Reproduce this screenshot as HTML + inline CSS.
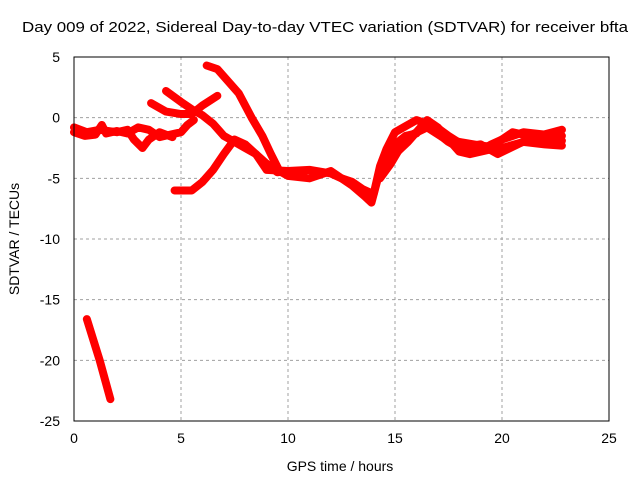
<!DOCTYPE html>
<html><head><meta charset="utf-8"><style>
body{margin:0;background:#fff}
svg{display:block;font-family:"Liberation Sans",sans-serif}
</style></head><body>
<svg id="c" width="640" height="480">
<text x="22" y="32" font-size="15" textLength="606" lengthAdjust="spacingAndGlyphs">Day 009 of 2022, Sidereal Day-to-day VTEC variation (SDTVAR) for receiver bfta</text>
<text x="340" y="471" font-size="14" text-anchor="middle">GPS time / hours</text>
<text transform="translate(19,239) rotate(-90)" font-size="14" text-anchor="middle">SDTVAR / TECUs</text>
<g id="grid"></g><g id="ticks"></g><g id="series"></g>
<rect x="74" y="57" width="535" height="364" fill="none" stroke="#000"/>
</svg>
<script>
const xTicks=[0,5,10,15,20,25];
const yTicks=[5,0,-5,-10,-15,-20,-25];
const trackA=[[0,-1.2],[0.5,-1.5],[1,-1.4],[1.3,-0.6],[1.5,-1.3],[2,-1.1],[2.5,-1.3],[3,-0.8],[3.5,-1],[4,-1.6],[4.5,-1.4],[5,-1.2],[5.3,-0.6],[5.6,-0.2]];
const trackA2=[[0,-0.8],[0.6,-1.2],[1.2,-1.0],[2,-1.2],[2.5,-1.0],[2.8,-1.8],[3.2,-2.5],[3.5,-1.8],[4,-1.2],[4.6,-1.6]];
const trackB=[[4.3,2.2],[5,1.3],[5.5,0.7],[6,0.2],[6.5,-0.5],[7,-1.5],[7.5,-2],[8,-2.5],[8.5,-3],[9,-3.8],[9.5,-4.5],[10,-4.4]];
const trackC=[[3.6,1.2],[4.3,0.5],[5,0.3],[5.5,0.3],[6,1],[6.7,1.8]];
const trackD=[[6.2,4.3],[6.7,4],[7.2,3],[7.7,2],[8.3,0],[8.8,-1.5],[9.2,-3],[9.6,-4.4]];
const trackE=[[4.7,-6],[5.5,-6],[6,-5.3],[6.5,-4.3],[7,-3],[7.5,-1.8],[8,-2.2],[8.5,-3],[9,-4.3],[10,-4.4],[11,-4.3],[12,-4.6],[12.5,-5],[13,-5.3],[13.5,-5.9],[14,-6.3],[14.3,-4],[14.6,-2.6],[15,-1.2],[15.5,-0.7],[16,-0.2],[16.5,-0.5],[17,-1.3],[17.5,-2],[18,-2.5],[19,-2.7],[19.5,-2.2],[20,-1.8],[21,-1.2],[22,-1.4],[22.8,-1.5]];
const trackF=[[9,-3.8],[10,-4.8],[11,-5],[12,-4.4],[13,-5.6],[13.6,-6.5],[13.9,-7],[14.2,-5],[14.7,-3.2],[15,-2.2],[15.5,-1.5],[16,-1.3],[16.5,-0.2],[17,-0.8],[17.5,-1.8],[18,-2.8],[18.5,-3],[19.5,-2.6],[20,-2.5],[21,-2],[22,-2.2],[22.8,-2.3]];
const trackG=[[14.3,-5],[14.8,-3.8],[15.2,-2.6],[15.8,-1.4],[16.5,-0.8],[17.2,-1.6],[18,-2.0],[19,-2.3],[19.5,-2.4],[20.5,-1.2],[21.5,-1.6],[22.8,-1.0]];
const trackI=[[14.6,-4.2],[15,-3],[15.6,-2],[16.2,-0.8],[16.8,-0.6],[17.5,-1.5],[18.3,-2.4],[19,-2.2],[19.8,-3],[20.5,-2.4],[21.2,-1.8],[22,-1.8],[22.8,-1.9]];
const trackH=[[0.6,-16.6],[1.2,-20],[1.7,-23.2]];
const tracks=[trackA,trackA2,trackB,trackC,trackD,trackE,trackF,trackG,trackI,trackH];
const X=h=>74+h*535/25, Y=v=>57+(5-v)*364/30;
const NS="http://www.w3.org/2000/svg";
const g=document.getElementById('grid'),t=document.getElementById('ticks'),s=document.getElementById('series');
function mk(p,tag,a){const e=document.createElementNS(NS,tag);for(const k in a)e.setAttribute(k,a[k]);p.appendChild(e);return e;}
xTicks.forEach(v=>{const x=X(v);
 if(v>0&&v<25){const l=mk(g,'line',{x1:x,x2:x,y1:57,y2:421,stroke:'#a0a0a0','stroke-dasharray':'3,3'});
 
 }
 const tx=mk(t,'text',{x:x,y:443,'font-size':14,'text-anchor':'middle'});tx.textContent=v;
 
 });
yTicks.forEach(v=>{const y=Y(v);
 if(v<5&&v>-25){const l=mk(g,'line',{x1:74,x2:609,y1:y,y2:y,stroke:'#a0a0a0','stroke-dasharray':'3,3'});
 
 }
 const tx=mk(t,'text',{x:60,y:y+5,'font-size':14,'text-anchor':'end'});tx.textContent=v;
 
 });
tracks.forEach(tr=>{const p=mk(s,'polyline',{points:tr.map(d=>X(d[0])+','+Y(d[1])).join(' '),fill:'none',stroke:'#ff0000','stroke-width':8,'stroke-linejoin':'round','stroke-linecap':'round'});
 
 });
</script>
</body></html>
